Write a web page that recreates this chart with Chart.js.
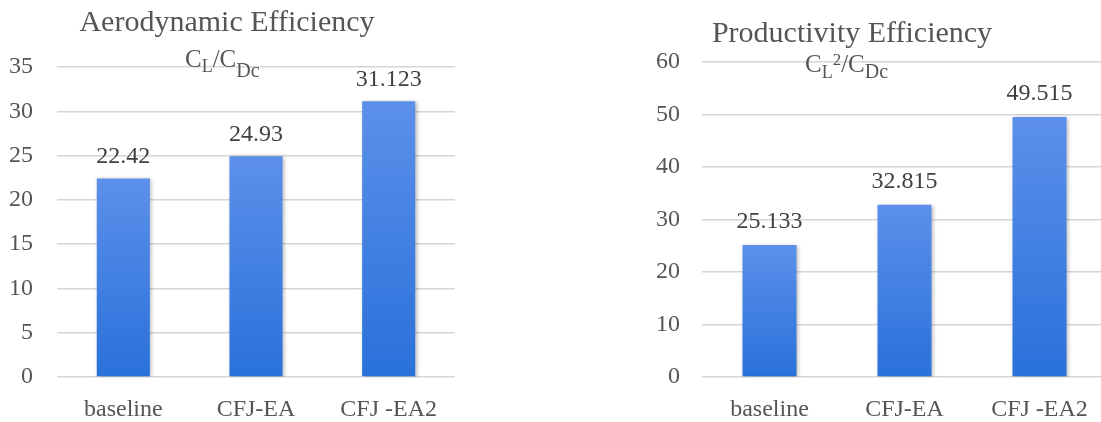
<!DOCTYPE html>
<html>
<head>
<meta charset="utf-8">
<script src="https://cdn.jsdelivr.net/npm/chart.js@4/dist/chart.umd.min.js"></script>
<style>
  html, body { margin: 0; padding: 0; background: #ffffff; overflow: hidden; width: 1101px; height: 422px; }
  canvas { position: absolute; top: 0; }
  #aero { left: 0; }
  #prod { left: 560px; }
</style>
</head>
<body>
<canvas id="aero" width="480" height="422"></canvas>
<canvas id="prod" width="560" height="422"></canvas>
<script>
// Configurations compared
const categories = ['baseline', 'CFJ-EA', 'CFJ -EA2'];

// Aerodynamic efficiency CL/CDc
const aeroValues = [22.42, 24.93, 31.123];
const aeroTicks = [0, 5, 10, 15, 20, 25, 30, 35];

// Productivity efficiency CL^2/CDc
const prodValues = [25.133, 32.815, 49.515];
const prodTicks = [0, 10, 20, 30, 40, 50, 60];

const SERIF = '"Liberation Serif", "Times New Roman", serif';
const TEXT_GREY = '#555555';
const LABEL_GREY = '#404040';

// Vertical gradient for each bar, lighter at the top
function barGradient(c) {
  const chart = c.chart;
  if (!chart.chartArea || c.type !== 'data') return '#3f80e0';
  const y = chart.scales.y;
  const top = y.getPixelForValue(c.raw);
  const bottom = y.getPixelForValue(0);
  const g = chart.ctx.createLinearGradient(0, top, 0, bottom);
  g.addColorStop(0, '#5c90ea');
  g.addColorStop(1, '#2971da');
  return g;
}

// Soft drop shadow under the bars
const barShadow = {
  id: 'barShadow',
  beforeDatasetDraw(chart) {
    const ctx = chart.ctx;
    ctx.save();
    ctx.shadowColor = 'rgba(0,0,0,0.28)';
    ctx.shadowBlur = 4;
    ctx.shadowOffsetX = 1.5;
    ctx.shadowOffsetY = 1;
  },
  afterDatasetDraw(chart) {
    chart.ctx.restore();
  }
};

// Value written above each bar
const valueLabels = {
  id: 'valueLabels',
  afterDatasetsDraw(chart, args, opts) {
    const ctx = chart.ctx;
    const meta = chart.getDatasetMeta(0);
    const data = chart.data.datasets[0].data;
    ctx.save();
    ctx.font = '24px ' + SERIF;
    ctx.fillStyle = LABEL_GREY;
    ctx.textAlign = 'center';
    ctx.textBaseline = 'alphabetic';
    meta.data.forEach((bar, i) => {
      ctx.fillText(String(data[i]), bar.x, bar.y - opts.gap);
    });
    ctx.restore();
  }
};

// Two-line title: a caption and a formula with sub/superscripts
const formulaTitle = {
  id: 'formulaTitle',
  afterDraw(chart, args, opts) {
    const ctx = chart.ctx;
    ctx.save();
    ctx.fillStyle = TEXT_GREY;
    ctx.textBaseline = 'alphabetic';
    ctx.textAlign = 'center';
    ctx.font = opts.size + 'px ' + SERIF;
    ctx.fillText(opts.text, opts.x, opts.y);
    ctx.textAlign = 'left';
    let x = opts.fx;
    opts.parts.forEach(p => {
      ctx.font = p.size + 'px ' + SERIF;
      ctx.fillText(p.t, x, opts.fy + p.shift);
      x += ctx.measureText(p.t).width;
    });
    ctx.restore();
  }
};

function makeChart(id, values, ticks, layout, title) {
  const maxTick = ticks[ticks.length - 1];
  const step = ticks[1] - ticks[0];
  return new Chart(document.getElementById(id), {
    type: 'bar',
    data: {
      labels: categories,
      datasets: [{
        data: values,
        backgroundColor: barGradient,
        borderWidth: 0,
        categoryPercentage: 1.0,
        barPercentage: 0.4
      }]
    },
    options: {
      responsive: false,
      animation: false,
      devicePixelRatio: 1,
      layout: { padding: { left: 0, top: layout.top, right: layout.right, bottom: 0 } },
      plugins: {
        legend: { display: false },
        tooltip: { enabled: false },
        title: { display: false },
        valueLabels: { gap: layout.gap },
        formulaTitle: title
      },
      scales: {
        x: {
          grid: { display: false, drawTicks: false },
          border: { display: false },
          ticks: { color: TEXT_GREY, font: { family: SERIF, size: 24 }, padding: layout.xPad, maxRotation: 0 },
          afterFit(s) { s.height = layout.xHeight; }
        },
        y: {
          min: 0,
          max: maxTick,
          grid: { color: '#d6d6d6', lineWidth: 1.5, drawTicks: false },
          border: { display: false },
          ticks: {
            stepSize: step,
            color: TEXT_GREY,
            font: { family: SERIF, size: 24 },
            padding: layout.yPad
          },
          afterFit(s) { s.width = layout.yWidth; }
        }
      }
    },
    plugins: [barShadow, valueLabels, formulaTitle]
  });
}

makeChart('aero', aeroValues, aeroTicks,
  { top: 67, right: 25, xHeight: 45, yWidth: 57, yPad: 24, xPad: 18, gap: 15 },
  {
    text: 'Aerodynamic Efficiency', size: 30, x: 227, y: 31,
    fx: 185, fy: 67,
    parts: [
      { t: 'C', size: 25, shift: 0 },
      { t: 'L', size: 18, shift: 5 },
      { t: '/', size: 25, shift: 0 },
      { t: 'C', size: 25, shift: 0 },
      { t: 'Dc', size: 20, shift: 10 }
    ]
  });

makeChart('prod', prodValues, prodTicks,
  { top: 62, right: 13, xHeight: 45, yWidth: 142, yPad: 22, xPad: 18, gap: 17 },
  {
    text: 'Productivity Efficiency', size: 30, x: 292, y: 42,
    fx: 245, fy: 72,
    parts: [
      { t: 'C', size: 25, shift: 0 },
      { t: 'L', size: 18, shift: 6 },
      { t: '2', size: 17, shift: -7 },
      { t: '/', size: 25, shift: 0 },
      { t: 'C', size: 25, shift: 0 },
      { t: 'Dc', size: 20, shift: 6 }
    ]
  });
</script>
</body>
</html>
